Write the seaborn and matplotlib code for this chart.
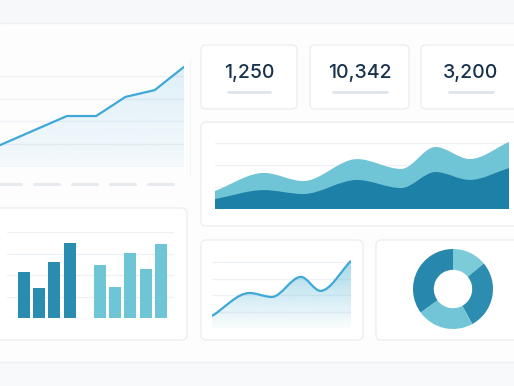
import numpy as np
import pandas as pd
import matplotlib.pyplot as plt
import seaborn as sns
from matplotlib.path import Path
from matplotlib.patches import PathPatch, FancyBboxPatch, Rectangle

sns.set_style("white")
plt.rcParams['font.family'] = ['Inter', 'DejaVu Sans']

W, H = 514, 386

# --- data ---
trend_idx = [0, 1, 2, 3, 4, 5, 6, 7]
trend_vals = [5.6, 11.2, 16.8, 22.4, 22.4, 30.8, 33.8, 44.0]

kpi_values = ["1,250", "10,342", "3,200"]

area_days = [0, 5, 9, 14.5, 19, 22.5, 26, 30]
area_base = [4.5, 8.6, 6.8, 13.2, 9.5, 16.8, 13.2, 18.6]
area_extra = [3.7, 7.8, 5.9, 9.5, 8.7, 11.4, 9.5, 11.9]

bar_slots = ["a1", "a2", "a3", "a4", "b1", "b2", "b3", "b4", "b5"]
bar_groups = ["A", "A", "A", "A", "B", "B", "B", "B", "B"]
bar_vals = [21.4, 14.0, 26.0, 34.9, 24.7, 14.4, 30.2, 22.8, 34.4]
slot_order = ["a1", "a2", "a3", "a4", "gap", "b1", "b2", "b3", "b4", "b5"]

spark_x = [0, 2.7, 4.3, 6.4, 7.8, 10]
spark_y = [7.3, 21.3, 18.9, 31.1, 22.6, 40.9]

donut_vals = [14, 28, 23, 35]

# --- colours ---
LINE = '#3ea8d8'
DARK = '#1d80a7'
LIGHT = '#6fc4d5'
BAR_DARK = '#2a8db0'
BAR_LIGHT = '#6dc5d6'
GRID = '#eef2f5'
BORDER = '#e9edf1'


def px_axes(x0, y0, x1, y1):
    ax = fig.add_axes([x0 / W, 1 - y1 / H, (x1 - x0) / W, (y1 - y0) / H])
    ax.set_facecolor('none')
    for s in ax.spines.values():
        s.set_visible(False)
    ax.tick_params(length=0, labelbottom=False, labelleft=False)
    return ax


def monotone(x, y):
    x = np.asarray(x, float)
    y = np.asarray(y, float)
    d = np.diff(y) / np.diff(x)
    m = np.zeros_like(y)
    m[0], m[-1] = d[0], d[-1]
    for i in range(1, len(y) - 1):
        if d[i - 1] * d[i] <= 0:
            m[i] = 0
        else:
            m[i] = 2 / (1 / d[i - 1] + 1 / d[i])
    verts = [(x[0], y[0])]
    codes = [Path.MOVETO]
    for i in range(len(x) - 1):
        h = x[i + 1] - x[i]
        verts += [(x[i] + h / 3, y[i] + m[i] * h / 3),
                  (x[i + 1] - h / 3, y[i + 1] - m[i + 1] * h / 3),
                  (x[i + 1], y[i + 1])]
        codes += [Path.CURVE4] * 3
    return verts, codes


def closed(verts, codes):
    v = verts + [(verts[-1][0], 0), (verts[0][0], 0), verts[0]]
    c = codes + [Path.LINETO, Path.LINETO, Path.CLOSEPOLY]
    return Path(v, c)


def gradient(ax, path, color, a_top, a_bot, extent):
    patch = PathPatch(path, fc='none', ec='none')
    ax.add_patch(patch)
    rgba = np.zeros((100, 1, 4))
    rgba[:, :, :3] = plt.matplotlib.colors.to_rgb(color)
    rgba[:, 0, 3] = np.linspace(a_bot, a_top, 100)
    im = ax.imshow(rgba, extent=extent, origin='lower', aspect='auto', zorder=1)
    im.set_clip_path(patch)


fig = plt.figure(figsize=(W / 100, H / 100), dpi=100)
fig.patch.set_facecolor('#fdfdfe')

# background + cards
bg = fig.add_axes([0, 0, 1, 1])
bg.set_xlim(0, W)
bg.set_ylim(H, 0)
bg.axis('off')
bg.add_patch(Rectangle((0, 0), W, 23, fc='#f6f8fa', ec='none'))
bg.plot([0, W], [23, 23], color='#eef1f4', lw=1)
bg.add_patch(Rectangle((0, 362), W, 24, fc='#f8f9fa', ec='none'))
bg.plot([0, W], [362, 362], color='#eef1f4', lw=1)

cards = [(201, 45, 297, 109), (310, 45, 409, 109),
         (421, 45, 524, 109), (201, 122, 524, 226), (-10, 208, 187, 340),
         (201, 240, 363, 340), (376, 240, 524, 340)]
for x0, y0, x1, y1 in cards:
    bg.add_patch(FancyBboxPatch((x0, y0), x1 - x0, y1 - y0,
                                boxstyle="round,pad=0,rounding_size=5",
                                fc='white', ec=BORDER, lw=0.9))
# faint right edge of the big trend panel
bg.plot([190, 190], [60, 175], color='#f1f4f6', lw=0.8)

for start in [-4, 34, 72, 110, 148]:
    bg.plot([start, start + 25], [184, 184], color='#e6eaef', lw=2.2,
            solid_capstyle='round')

# KPI numbers
kpi_x = [249, 360, 471]
kpi_w = [42, 54, 44]
for v, cx, w in zip(kpi_values, kpi_x, kpi_w):
    bg.text(cx, 77.5, v, ha='center', va='baseline', fontsize=14,
            color='#17324d', fontweight='medium')
    bg.plot([cx - w / 2, cx + w / 2], [92, 92], color='#dde5ed', lw=2,
            solid_capstyle='round')

# top-left trend line
ax1 = px_axes(-21, 64.6, 184, 167)
ax1.set_xlim(0, 7)
ax1.set_ylim(0, 45)
ax1.set_yticks([0, 10, 20, 30, 40])
ax1.grid(axis='y', color=GRID, lw=1)
ax1.grid(axis='x', visible=False)
tv = list(zip(trend_idx, trend_vals))
p1 = Path(tv + [(trend_idx[-1], 0), (trend_idx[0], 0), tv[0]],
          [Path.MOVETO] + [Path.LINETO] * (len(tv) + 1) + [Path.CLOSEPOLY])
gradient(ax1, p1, LINE, 0.16, 0.05, [0, 7, 0, 45])
sns.lineplot(x=trend_idx, y=trend_vals, color=LINE, lw=1.6, ax=ax1, zorder=3)

# stacked smooth area chart
ax2 = px_axes(215, 121, 509, 209)
ax2.set_xlim(area_days[0], area_days[-1])
ax2.set_ylim(0, 40)
ax2.set_yticks([10, 20, 30])
ax2.grid(axis='y', color=GRID, lw=1)
ax2.grid(axis='x', visible=False)
total = np.array(area_base) + np.array(area_extra)
vt, ct = monotone(area_days, total)
ax2.add_patch(PathPatch(closed(vt, ct), fc=LIGHT, ec='none', zorder=2))
vb, cb = monotone(area_days, area_base)
ax2.add_patch(PathPatch(closed(vb, cb), fc=DARK, ec='none', zorder=3))

# bar chart
ax3 = px_axes(7.3, 232, 174.5, 318)
bar_df = pd.DataFrame({'slot': bar_slots, 'value': bar_vals, 'group': bar_groups})
sns.barplot(data=bar_df, x='slot', y='value', hue='group', order=slot_order,
            palette={'A': BAR_DARK, 'B': BAR_LIGHT}, dodge=False, width=0.79,
            saturation=1, legend=False, linewidth=0, ax=ax3, zorder=3)
ax3.set_xlim(-1.1, 9.9)
ax3.set_ylim(0, 40)
ax3.set_yticks([0, 10, 20, 30, 40])
ax3.grid(axis='y', color=GRID, lw=1)
ax3.grid(axis='x', visible=False)
ax3.set_axisbelow(True)
ax3.set_xlabel('')
ax3.set_ylabel('')
ax3.tick_params(length=0, labelbottom=False, labelleft=False)

# small smooth line
ax4 = px_axes(212, 259, 351, 328)
ax4.set_xlim(spark_x[0], spark_x[-1])
ax4.set_ylim(0, 42)
ax4.set_yticks([10, 20, 30, 40])
ax4.grid(axis='y', color=GRID, lw=1)
ax4.grid(axis='x', visible=False)
vs, cs = monotone(spark_x, spark_y)
gradient(ax4, closed(vs, cs), '#5bb8d6', 0.55, 0.03, [0, 10, 0, 42])
ax4.add_patch(PathPatch(Path(vs, cs), fc='none', ec=LINE, lw=1.6, zorder=3))

# donut
ax5 = px_axes(408, 244, 498, 334)
ax5.pie(donut_vals, colors=['#7ccbd9', '#2c8db1', '#71c5d6', '#2787ad'],
        startangle=90, counterclock=False,
        wedgeprops=dict(width=0.52, edgecolor='none'))
ax5.set_xlim(-1.125, 1.125)
ax5.set_ylim(-1.125, 1.125)

fig.savefig('out.png', dpi=100, facecolor=fig.get_facecolor())
